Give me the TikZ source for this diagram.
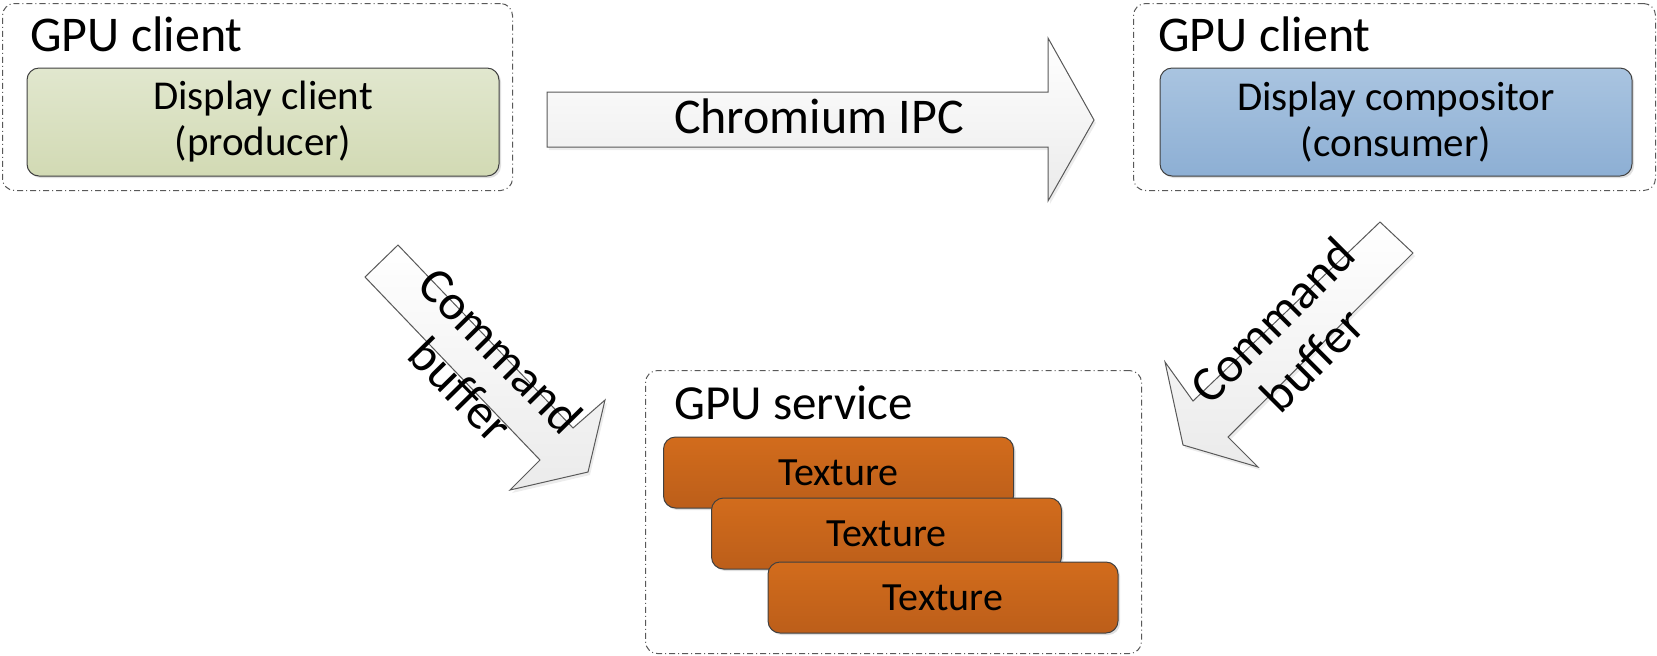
\documentclass[tikz,border=0pt]{standalone}
\usepackage{fontspec}
\setmainfont{Carlito}
\usetikzlibrary{shadows}
\definecolor{grntop}{HTML}{E1E7CE}
\definecolor{grnbot}{HTML}{D2DAB4}
\definecolor{blutop}{HTML}{A9C4E0}
\definecolor{blubot}{HTML}{8DAFD4}
\definecolor{orgtop}{HTML}{D26C1C}
\definecolor{orgbot}{HTML}{BC5E1A}
\definecolor{boxline}{HTML}{404040}
\definecolor{grpline}{HTML}{595959}
\definecolor{arrline}{HTML}{595959}
\begin{document}
\begin{tikzpicture}[x=0.5pt,y=-0.5pt,
  group/.style={draw=grpline, line width=0.5pt,
    dash pattern=on 3pt off 1.5pt on 0.5pt off 1.5pt,
    rounded corners=6pt, anchor=north west, inner sep=0pt},
  inbox/.style={draw=boxline, line width=0.5pt, rounded corners=6pt,
    align=center, inner sep=0pt, font=\fontsize{20.5}{23}\selectfont,
    drop shadow={shadow xshift=1pt, shadow yshift=-1pt, opacity=0.25}},
  texbox/.style={draw=boxline, line width=0.5pt, rounded corners=6pt,
    top color=orgtop, bottom color=orgbot,
    minimum width=175pt, minimum height=35.5pt, inner sep=0pt,
    font=\fontsize{20}{24}\selectfont,
    drop shadow={shadow xshift=1pt, shadow yshift=-1pt, opacity=0.25}},
  grptitle/.style={anchor=base west, inner sep=0pt, font=\fontsize{25}{29}\selectfont},
  blockarrow/.style={draw=arrline, line width=0.5pt, top color=white, bottom color=black!8,
    drop shadow={shadow xshift=1pt, shadow yshift=-1.5pt, opacity=0.15}},
  arrtext/.style={align=center, inner sep=0pt, font=\fontsize{25}{28}\selectfont}
]
\useasboundingbox (0,0) rectangle (1657,655);

% groups
\node[group, minimum width=255pt, minimum height=93.5pt] (clientL) at (2,3) {};
\node[group, minimum width=261pt, minimum height=93.5pt] (clientR) at (1133,3) {};
\node[group, minimum width=248pt, minimum height=141.5pt] (service) at (645,370) {};

\node[grptitle] (titleL) at (30,51) {GPU client};
\node[grptitle] (titleR) at (1158,51) {GPU client};
\node[grptitle, font=\fontsize{24.5}{29}\selectfont] (titleS) at (674,419) {GPU service};

% inner boxes
\node[inbox, top color=grntop, bottom color=grnbot,
  minimum width=236pt, minimum height=54pt] (producer) at (263,122)
  {Display client\\(producer)};
\node[inbox, top color=blutop, bottom color=blubot,
  minimum width=236pt, minimum height=54pt] (consumer) at (1396,122)
  {Display compositor\\(consumer)};

% textures
\node[texbox] (tex1) at (838.5,472.5) {Texture};
\node[texbox] (tex2) at (886.5,533.5) {Texture};
\node[texbox] (tex3) at (943,597.5) {Texture};

% block arrows
\draw[blockarrow] (547,92) -- (1048,92) -- (1048,38) -- (1094,120)
  -- (1048,201) -- (1048,147) -- (547,147) -- cycle;
\node[arrtext, anchor=base] (ipc) at (819,133) {Chromium IPC};

\draw[blockarrow] (398,245) -- (573,428) -- (605,400) -- (588,472)
  -- (510,490) -- (540,460) -- (365,277) -- cycle;
\node[arrtext, rotate=-45.5] (cbL) at (481,370) {Command\\buffer};

\draw[blockarrow] (1380,222) -- (1193,401) -- (1165,362) -- (1183,445)
  -- (1258,467) -- (1228,437) -- (1413,253) -- cycle;
\node[arrtext, rotate=45] (cbR) at (1292,340) {Command\\buffer};
\end{tikzpicture}
\end{document}
